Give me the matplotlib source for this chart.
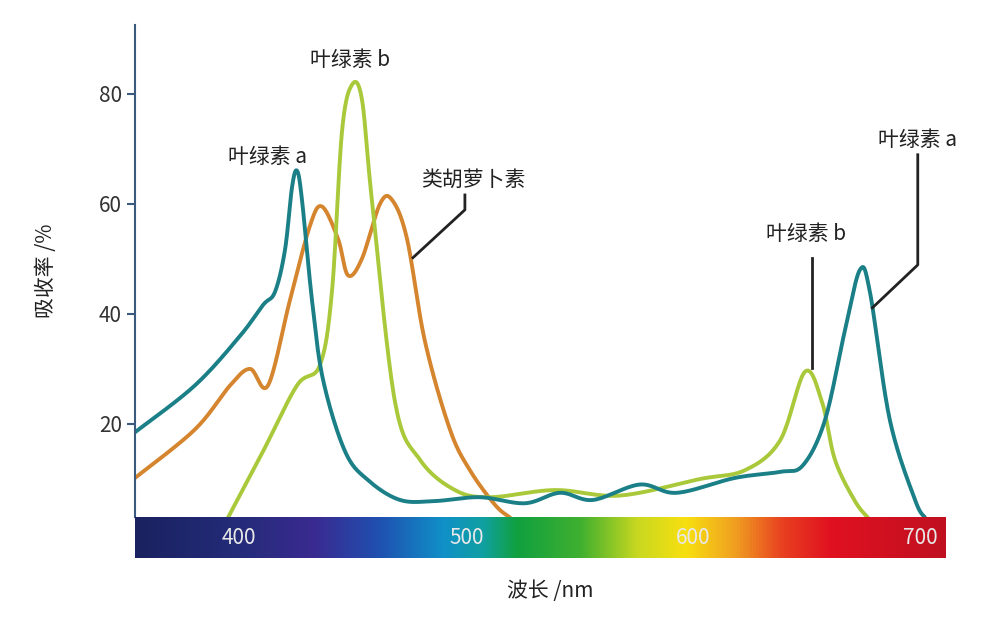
import numpy as np
import matplotlib
matplotlib.use("Agg")
import matplotlib.pyplot as plt
from matplotlib.colors import LinearSegmentedColormap

plt.rcParams['font.family'] = ['Noto Sans CJK SC', 'DejaVu Sans']

chla_x = [354,380.4,400.3,410.4,415.7,420.1,423.2,425.4,427.6,432.0,436.9,446.6,456.7,470.8,486.2,506.0,525.9,541.3,555.8,576.5,592.8,618.4,638.3,648.4,658.1,666.9,673.5,677.9,686.7,697.8,702.2]
chla_y = [18.5,27,36,41.6,44,51.6,63,66,60.7,42.5,28,15,9.8,6.2,6,6.7,5.6,7.5,6.2,9,7.5,10.2,11.3,12.5,20.7,37,48,44,20.7,6.2,3]
chlb_x = [395.0,410.4,425.4,435.5,440.8,445.2,449.6,454.0,458.4,468.6,479.6,495.0,510.5,539.1,567.7,603.0,622.8,638.3,649.3,656.8,662.5,671.3,677.0]
chlb_y = [3,15,27,30.7,44,73,81.6,79,60.7,24,13.5,8,6.7,8,7,10,11.6,17,29.5,24,13.5,6,3]
car_x = [354,380.4,395.9,404.7,412.6,422.3,431.1,436.4,443.5,447.9,454.0,462.0,467.3,473.9,481.8,492.8,501.6,512.7,519.3]
car_y = [10.2,19,27,30,27,42.5,56,59.5,53.6,47,50,60,60.7,53.6,35,19,11.6,5.3,3]
yticks = [20,40,60,80]
xticks = [400,500,600,700]

def smooth(x, y, n=20):
    x = np.asarray(x, float); y = np.asarray(y, float)
    px = np.concatenate([[x[0]], x, [x[-1]]]); py = np.concatenate([[y[0]], y, [y[-1]]])
    ox, oy = [], []
    for i in range(1, len(px)-2):
        t = np.linspace(0, 1, n, endpoint=False)
        for p, o in ((px, ox), (py, oy)):
            p0, p1, p2, p3 = p[i-1], p[i], p[i+1], p[i+2]
            o.extend(0.5*((2*p1) + (-p0+p2)*t + (2*p0-5*p1+4*p2-p3)*t**2 + (-p0+3*p1-3*p2+p3)*t**3))
    ox.append(x[-1]); oy.append(y[-1])
    return np.array(ox), np.array(oy)

fig = plt.figure(figsize=(10, 6.27), dpi=100)
ax = fig.add_axes([0.135, 0.1754, 0.81, 0.785])
xmin, xmax, ymin, ymax = 354, 711, 3.1, 92.5
ax.set_xlim(xmin, xmax); ax.set_ylim(ymin, ymax)
for s in ['top', 'right', 'bottom']:
    ax.spines[s].set_visible(False)
ax.spines['left'].set_color('#3a5a80')
ax.spines['left'].set_linewidth(1.5)
ax.set_xticks([])
ax.set_yticks(yticks)
ax.tick_params(axis='y', labelsize=15, color='#3a5a80', length=6, width=1.5, labelcolor='#333333')

for xs, ys, c in [(car_x, car_y, '#d5852e'), (chlb_x, chlb_y, '#a9c93a'), (chla_x, chla_y, '#1a7f86')]:
    sx, sy = smooth(xs, ys)
    ax.plot(sx, sy, color=c, lw=2.8, solid_capstyle='round')

tk = dict(fontsize=15, color='#222222', ha='center', va='center')
ax.text(449, 86.2, '叶绿素 b', **tk)
ax.text(412.6, 68.5, '叶绿素 a', **tk)
ax.text(503, 64.4, '类胡萝卜素', **tk)
ax.text(649.7, 54.5, '叶绿素 b', **tk)
ax.text(699, 71.6, '叶绿素 a', **tk)
lk = dict(color='#222222', lw=2)
ax.plot([499.4, 499.4, 476.5], [61.6, 58.9, 50.2], **lk)
ax.plot([652.4, 652.4], [50.2, 30.2], **lk)
ax.plot([699, 699, 679], [68.9, 48.9, 41.1], **lk)

ax.set_ylabel('吸收率 /%', fontsize=15, labelpad=30, color='#222222')

bax = fig.add_axes([0.135, 0.110, 0.81, 0.0654])
cols = [(0, '#1a2260'), (0.13, '#252c7a'), (0.22, '#3a2a90'), (0.30, '#2050b0'),
        (0.38, '#1090c8'), (0.43, '#10a0a0'), (0.47, '#10a040'), (0.55, '#40b030'),
        (0.62, '#c8d820'), (0.68, '#f8e010'), (0.74, '#f0a020'), (0.80, '#e84020'),
        (0.86, '#e01020'), (1.0, '#c01020')]
cmap = LinearSegmentedColormap.from_list('spec', cols)
bax.imshow(np.linspace(0, 1, 512)[None, :], aspect='auto', cmap=cmap, extent=[xmin, xmax, 0, 1])
bax.set_xlim(xmin, xmax); bax.set_ylim(0, 1)
bax.set_xticks([]); bax.set_yticks([])
for s in bax.spines.values():
    s.set_visible(False)
for t in xticks:
    bax.text(t, 0.5, str(t), color='#e8e8e8', fontsize=15, ha='center', va='center')

fig.text(0.55, 0.058, '波长 /nm', fontsize=15, ha='center', va='center', color='#222222')
fig.savefig('out.png', dpi=100)
